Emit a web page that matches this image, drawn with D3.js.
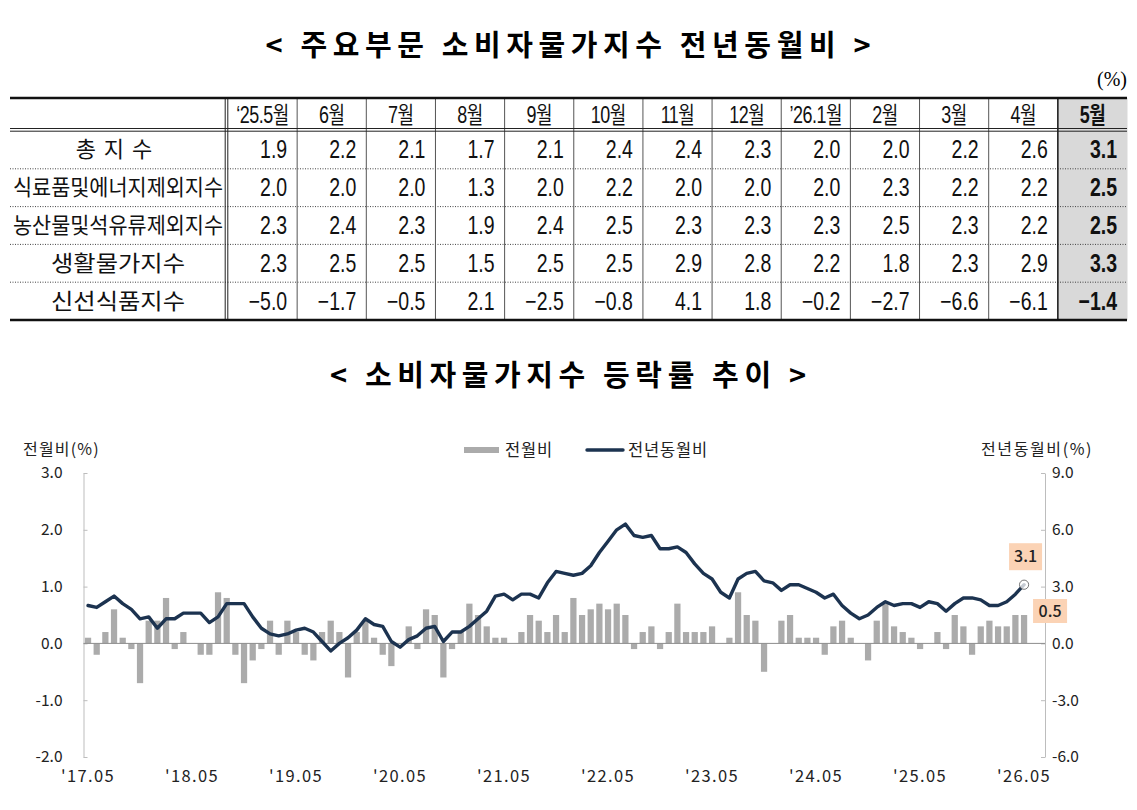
<!DOCTYPE html>
<html><head><meta charset="utf-8">
<script src="https://cdn.jsdelivr.net/npm/d3@7"></script>
<style>
body{margin:0;background:#fff}
svg{display:block}
.kr{font-family:"Noto Sans CJK KR","Noto Sans",sans-serif}
.nar{font-family:"Liberation Sans","Arial","Noto Sans CJK KR",sans-serif}
</style>
</head><body>
<svg id="c" width="1137" height="810"></svg>
<script>
// ---------- table data ----------
const tableCols = ["\u201825.5월","6월","7월","8월","9월","10월","11월","12월","\u201926.1월","2월","3월","4월","5월"];
const tableRowNames = ["총지수","식료품및에너지제외지수","농산물및석유류제외지수","생활물가지수","신선식품지수"];
const rowTotal    = [1.9, 2.2, 2.1, 1.7, 2.1, 2.4, 2.4, 2.3, 2.0, 2.0, 2.2, 2.6, 3.1];
const rowExFoodEn = [2.0, 2.0, 2.0, 1.3, 2.0, 2.2, 2.0, 2.0, 2.0, 2.3, 2.2, 2.2, 2.5];
const rowExAgriOil= [2.3, 2.4, 2.3, 1.9, 2.4, 2.5, 2.3, 2.3, 2.3, 2.5, 2.3, 2.2, 2.5];
const rowLiving   = [2.3, 2.5, 2.5, 1.5, 2.5, 2.5, 2.9, 2.8, 2.2, 1.8, 2.3, 2.9, 3.3];
const rowFresh    = [-5.0,-1.7,-0.5, 2.1,-2.5,-0.8, 4.1, 1.8,-0.2,-2.7,-6.6,-6.1,-1.4];

// ---------- chart data ('17.05 ~ '26.05, monthly) ----------
const momValues = [
 0.1,-0.2, 0.2, 0.6, 0.1,-0.1,-0.7, 0.4, 0.4, 0.8,-0.1, 0.2,   // 17.05-18.04
 0.0,-0.2,-0.2, 0.9, 0.8,-0.2,-0.7,-0.3,-0.1, 0.4,-0.2, 0.4,   // 18.05-19.04
 0.2,-0.2,-0.3, 0.2, 0.4, 0.2,-0.6, 0.2, 0.4, 0.1,-0.2,-0.4,   // 19.05-20.04
 0.0, 0.3,-0.1, 0.6, 0.5,-0.6,-0.1, 0.2, 0.7, 0.5, 0.3, 0.1,   // 20.05-21.04
 0.1, 0.0, 0.2, 0.5, 0.4, 0.2, 0.5, 0.2, 0.8, 0.5, 0.6, 0.7,   // 21.05-22.04
 0.6, 0.7, 0.5,-0.1, 0.2, 0.3,-0.1, 0.2, 0.7, 0.2, 0.2, 0.2,   // 22.05-23.04
 0.3, 0.0, 0.1, 0.9, 0.5, 0.4,-0.5, 0.0, 0.4, 0.5, 0.1, 0.1,   // 23.05-24.04
 0.1,-0.2, 0.3, 0.4, 0.1, 0.0,-0.3, 0.4, 0.7, 0.3, 0.2, 0.1,   // 24.05-25.04
-0.1, 0.0, 0.2,-0.1, 0.5, 0.3,-0.2, 0.3, 0.4, 0.3, 0.3, 0.5,   // 25.05-26.04
 0.5                                                           // 26.05
];
const yoyValues = [
 2.0, 1.9, 2.2, 2.5, 2.1, 1.8, 1.3, 1.4, 0.8, 1.3, 1.3, 1.6,
 1.6, 1.6, 1.1, 1.4, 2.1, 2.1, 2.1, 1.4, 0.8, 0.5, 0.4, 0.5,
 0.7, 0.8, 0.6, 0.1,-0.4, 0.0, 0.3, 0.7, 1.3, 1.0, 0.9, 0.1,
-0.2, 0.2, 0.4, 0.8, 0.9, 0.1, 0.6, 0.6, 0.9, 1.3, 1.7, 2.5,
 2.6, 2.3, 2.6, 2.6, 2.4, 3.2, 3.8, 3.7, 3.6, 3.7, 4.1, 4.8,
 5.4, 6.0, 6.3, 5.7, 5.6, 5.7, 5.0, 5.0, 5.1, 4.8, 4.2, 3.7,
 3.4, 2.7, 2.4, 3.4, 3.7, 3.8, 3.3, 3.2, 2.8, 3.1, 3.1, 2.9,
 2.7, 2.4, 2.6, 2.0, 1.6, 1.3, 1.5, 1.9, 2.2, 2.0, 2.1, 2.1,
 1.9, 2.2, 2.1, 1.7, 2.1, 2.4, 2.4, 2.3, 2.0, 2.0, 2.2, 2.6,
 3.1
];
const xTickLabels = ["'17.05","'18.05","'19.05","'20.05","'21.05","'22.05","'23.05","'24.05","'25.05","'26.05"];
const leftTicks  = [3, 2, 1, 0, -1, -2];
const rightTicks = [9, 6, 3, 0, -3, -6];

const svg = d3.select("#c");

// ---------- titles ----------
svg.append("text").attr("class","kr").attr("x",568).attr("y",56)
  .attr("text-anchor","middle").attr("font-size",29).attr("font-weight",700)
  .attr("textLength",605).attr("lengthAdjust","spacing")
  .text("< 주요부문  소비자물가지수  전년동월비 >");
svg.append("text").attr("x",1127).attr("y",86).attr("text-anchor","end")
  .attr("font-family","Liberation Serif, DejaVu Serif, serif").attr("font-size",20).text("(%)");

// ---------- table ----------
const tRows = [rowTotal,rowExFoodEn,rowExAgriOil,rowLiving,rowFresh];
const tL = 10, tR = 1127, tTop = 98, tHeadB = 130, tBot = 320, c0 = 226.5;
const colX = d3.scaleBand().domain(tableCols).range([c0+1.5, tR]);
const rowY = d3.scaleBand().domain(tableRowNames).range([tHeadB+1, tBot]);
const tg = svg.append("g");
const lastCol = tableCols[tableCols.length-1];
const narrow = 0.78;
tg.append("rect").attr("x",colX(lastCol)).attr("y",tTop).attr("width",colX.bandwidth()+0.5)
  .attr("height",tBot-tTop).attr("fill","#d9d9d9");
tg.selectAll("line.rs").data(tableRowNames.slice(1)).join("line")
  .attr("x1",tL).attr("x2",tR).attr("y1",d=>rowY(d)).attr("y2",d=>rowY(d))
  .attr("stroke","#444").attr("stroke-width",1).attr("stroke-dasharray","1,1.5");
tg.selectAll("line.cs").data(tableCols.slice(1)).join("line")
  .attr("x1",d=>colX(d)).attr("x2",d=>colX(d)).attr("y1",tTop).attr("y2",tBot)
  .attr("stroke",(d)=>d===lastCol?"#222":"#555").attr("stroke-width",d=>d===lastCol?1.6:1);
[c0-1.3, c0+1.3].forEach(x=>tg.append("line").attr("x1",x).attr("x2",x).attr("y1",tTop).attr("y2",tBot).attr("stroke","#222").attr("stroke-width",1));
[tHeadB-1.5, tHeadB+1.2].forEach(y=>tg.append("line").attr("x1",tL).attr("x2",tR).attr("y1",y).attr("y2",y).attr("stroke","#222").attr("stroke-width",1));
[tTop, tBot].forEach(y=>tg.append("line").attr("x1",tL).attr("x2",tR).attr("y1",y).attr("y2",y).attr("stroke","#111").attr("stroke-width",2.6));
tg.selectAll("text.h").data(tableCols).join("text").attr("class","nar")
  .attr("transform",d=>`translate(${colX(d)+colX.bandwidth()/2},123) scale(${narrow},1)`)
  .attr("text-anchor","middle")
  .attr("font-size",23).attr("font-weight",d=>d===lastCol?700:400).attr("fill","#111")
  .attr("letter-spacing",-0.6).text(d=>d);
tg.selectAll("text.rl").data(tableRowNames).join("text").attr("class","kr")
  .attr("x",118).attr("y",d=>rowY(d)+rowY.bandwidth()/2+7.5).attr("text-anchor","middle")
  .attr("font-size",22).attr("fill","#111")
  .each(function(d){
    const s=d3.select(this);
    if(d.length>8){ s.attr("textLength",210).attr("lengthAdjust","spacingAndGlyphs"); }
    else if(d.length<=3){ s.attr("letter-spacing",8); }
    else { s.attr("textLength",134).attr("lengthAdjust","spacingAndGlyphs"); }
  }).text(d=>d);
tableRowNames.forEach((rn,ri)=>{
  tg.selectAll(null).data(tRows[ri]).join("text").attr("class","nar")
    .attr("transform",(d,i)=>`translate(${colX(tableCols[i])+colX.bandwidth()-10},${rowY(rn)+rowY.bandwidth()/2+8.5}) scale(${narrow},1)`)
    .attr("text-anchor","end")
    .attr("font-size",25).attr("fill","#111")
    .attr("font-weight",(d,i)=>i===tableCols.length-1?700:400)
    .text(d=>(d<0?"\u2212"+(-d).toFixed(1):d.toFixed(1)));
});

// ---------- chart ----------
svg.append("text").attr("class","kr").attr("x",568).attr("y",386)
  .attr("text-anchor","middle").attr("font-size",29).attr("font-weight",700)
  .attr("textLength",476).attr("lengthAdjust","spacing")
  .text("< 소비자물가지수  등락률  추이 >");

const n = momValues.length;
const idx = d3.range(n);
const xL = 83.7, xR = xL + 8.667*n;
const x = d3.scaleBand().domain(idx).range([xL, xR]).paddingInner(0.28).paddingOuter(0.14);
const bw = x.bandwidth();
const yL = d3.scaleLinear().domain([-2,3]).range([757,473]);
const yR = d3.scaleLinear().domain([-6,9]).range([757,473]);
const axL = 83.5, axR = 1045;
const grey = "#ababab", navy = "#1c3350";
const cf = "Noto Sans CJK KR, Noto Sans, sans-serif";

const gL = svg.append("g").attr("transform",`translate(${axL},0)`)
  .call(d3.axisLeft(yL).tickValues(leftTicks).tickFormat(d=>d.toFixed(1)).tickSize(-4).tickSizeOuter(0).tickPadding(21));
const gR = svg.append("g").attr("transform",`translate(${axR},0)`)
  .call(d3.axisRight(yR).tickValues(rightTicks).tickFormat(d=>d.toFixed(1)).tickSize(-4).tickSizeOuter(0).tickPadding(7));
[gL,gR].forEach(g=>{
  g.select(".domain").attr("stroke","#bdbdbd");
  g.selectAll(".tick line").attr("stroke","#bdbdbd");
  g.selectAll(".tick text").attr("font-family",cf).attr("font-size",15.5).attr("fill","#222");
});

svg.append("g").selectAll("rect").data(momValues).join("rect")
  .attr("x",(d,i)=>x(i)).attr("width",bw)
  .attr("y",d=>Math.min(yL(d),yL(0))).attr("height",d=>Math.abs(yL(d)-yL(0)))
  .attr("fill",grey);

svg.append("line").attr("x1",axL).attr("x2",axR).attr("y1",yL(0)).attr("y2",yL(0))
  .attr("stroke","#8c8c8c").attr("stroke-width",1);

const line = d3.line().x((d,i)=>x(i)+bw/2).y(d=>yR(d));
svg.append("path").datum(yoyValues).attr("d",line).attr("fill","none")
  .attr("stroke",navy).attr("stroke-width",3.4).attr("stroke-linejoin","round").attr("stroke-linecap","round");

const li = n-1, lx = x(li)+bw/2;
svg.append("circle").attr("cx",lx).attr("cy",yR(yoyValues[li])).attr("r",4.6)
  .attr("fill","#fff").attr("fill-opacity",0.75).attr("stroke","#555").attr("stroke-width",0.8);

function tag(cx, cy, w, h, txt){
  svg.append("rect").attr("x",cx-w/2).attr("y",cy-h/2).attr("width",w).attr("height",h).attr("fill","#fbd3b5");
  svg.append("text").attr("x",cx).attr("y",cy+5.5).attr("text-anchor","middle")
    .attr("font-family",cf).attr("font-size",16).attr("font-weight",500).attr("fill","#222").text(txt);
}
tag(lx+1.5, yR(yoyValues[li])-28, 33, 27, yoyValues[li].toFixed(1));
tag(lx+26, yL(momValues[li])-4, 34, 24, momValues[li].toFixed(1));

svg.append("g").selectAll("text").data(xTickLabels).join("text")
  .attr("x",(d,k)=>x(k*12)+bw/2).attr("y",782).attr("text-anchor","middle")
  .attr("font-family",cf).attr("font-size",16.5)
  .attr("letter-spacing",1.4).attr("fill","#222").text(d=>d);

svg.append("text").attr("x",23).attr("y",455).attr("font-family",cf)
  .attr("font-size",16).attr("letter-spacing",1.2).attr("fill","#222").text("전월비(%)");
svg.append("text").attr("x",1093).attr("y",455).attr("text-anchor","end").attr("font-family",cf)
  .attr("font-size",16).attr("letter-spacing",1.6).attr("fill","#222").text("전년동월비(%)");

const lg = svg.append("g");
lg.append("rect").attr("x",464).attr("y",447).attr("width",35).attr("height",6).attr("fill",grey);
lg.append("text").attr("x",505).attr("y",456).attr("font-family",cf)
  .attr("font-size",16.5).attr("letter-spacing",0.8).attr("fill","#222").text("전월비");
lg.append("line").attr("x1",587).attr("x2",623).attr("y1",450).attr("y2",450).attr("stroke",navy).attr("stroke-width",3.4).attr("stroke-linecap","round");
lg.append("text").attr("x",628).attr("y",456).attr("font-family",cf)
  .attr("font-size",16.5).attr("letter-spacing",0.8).attr("fill","#222").text("전년동월비");
</script>
</body></html>
